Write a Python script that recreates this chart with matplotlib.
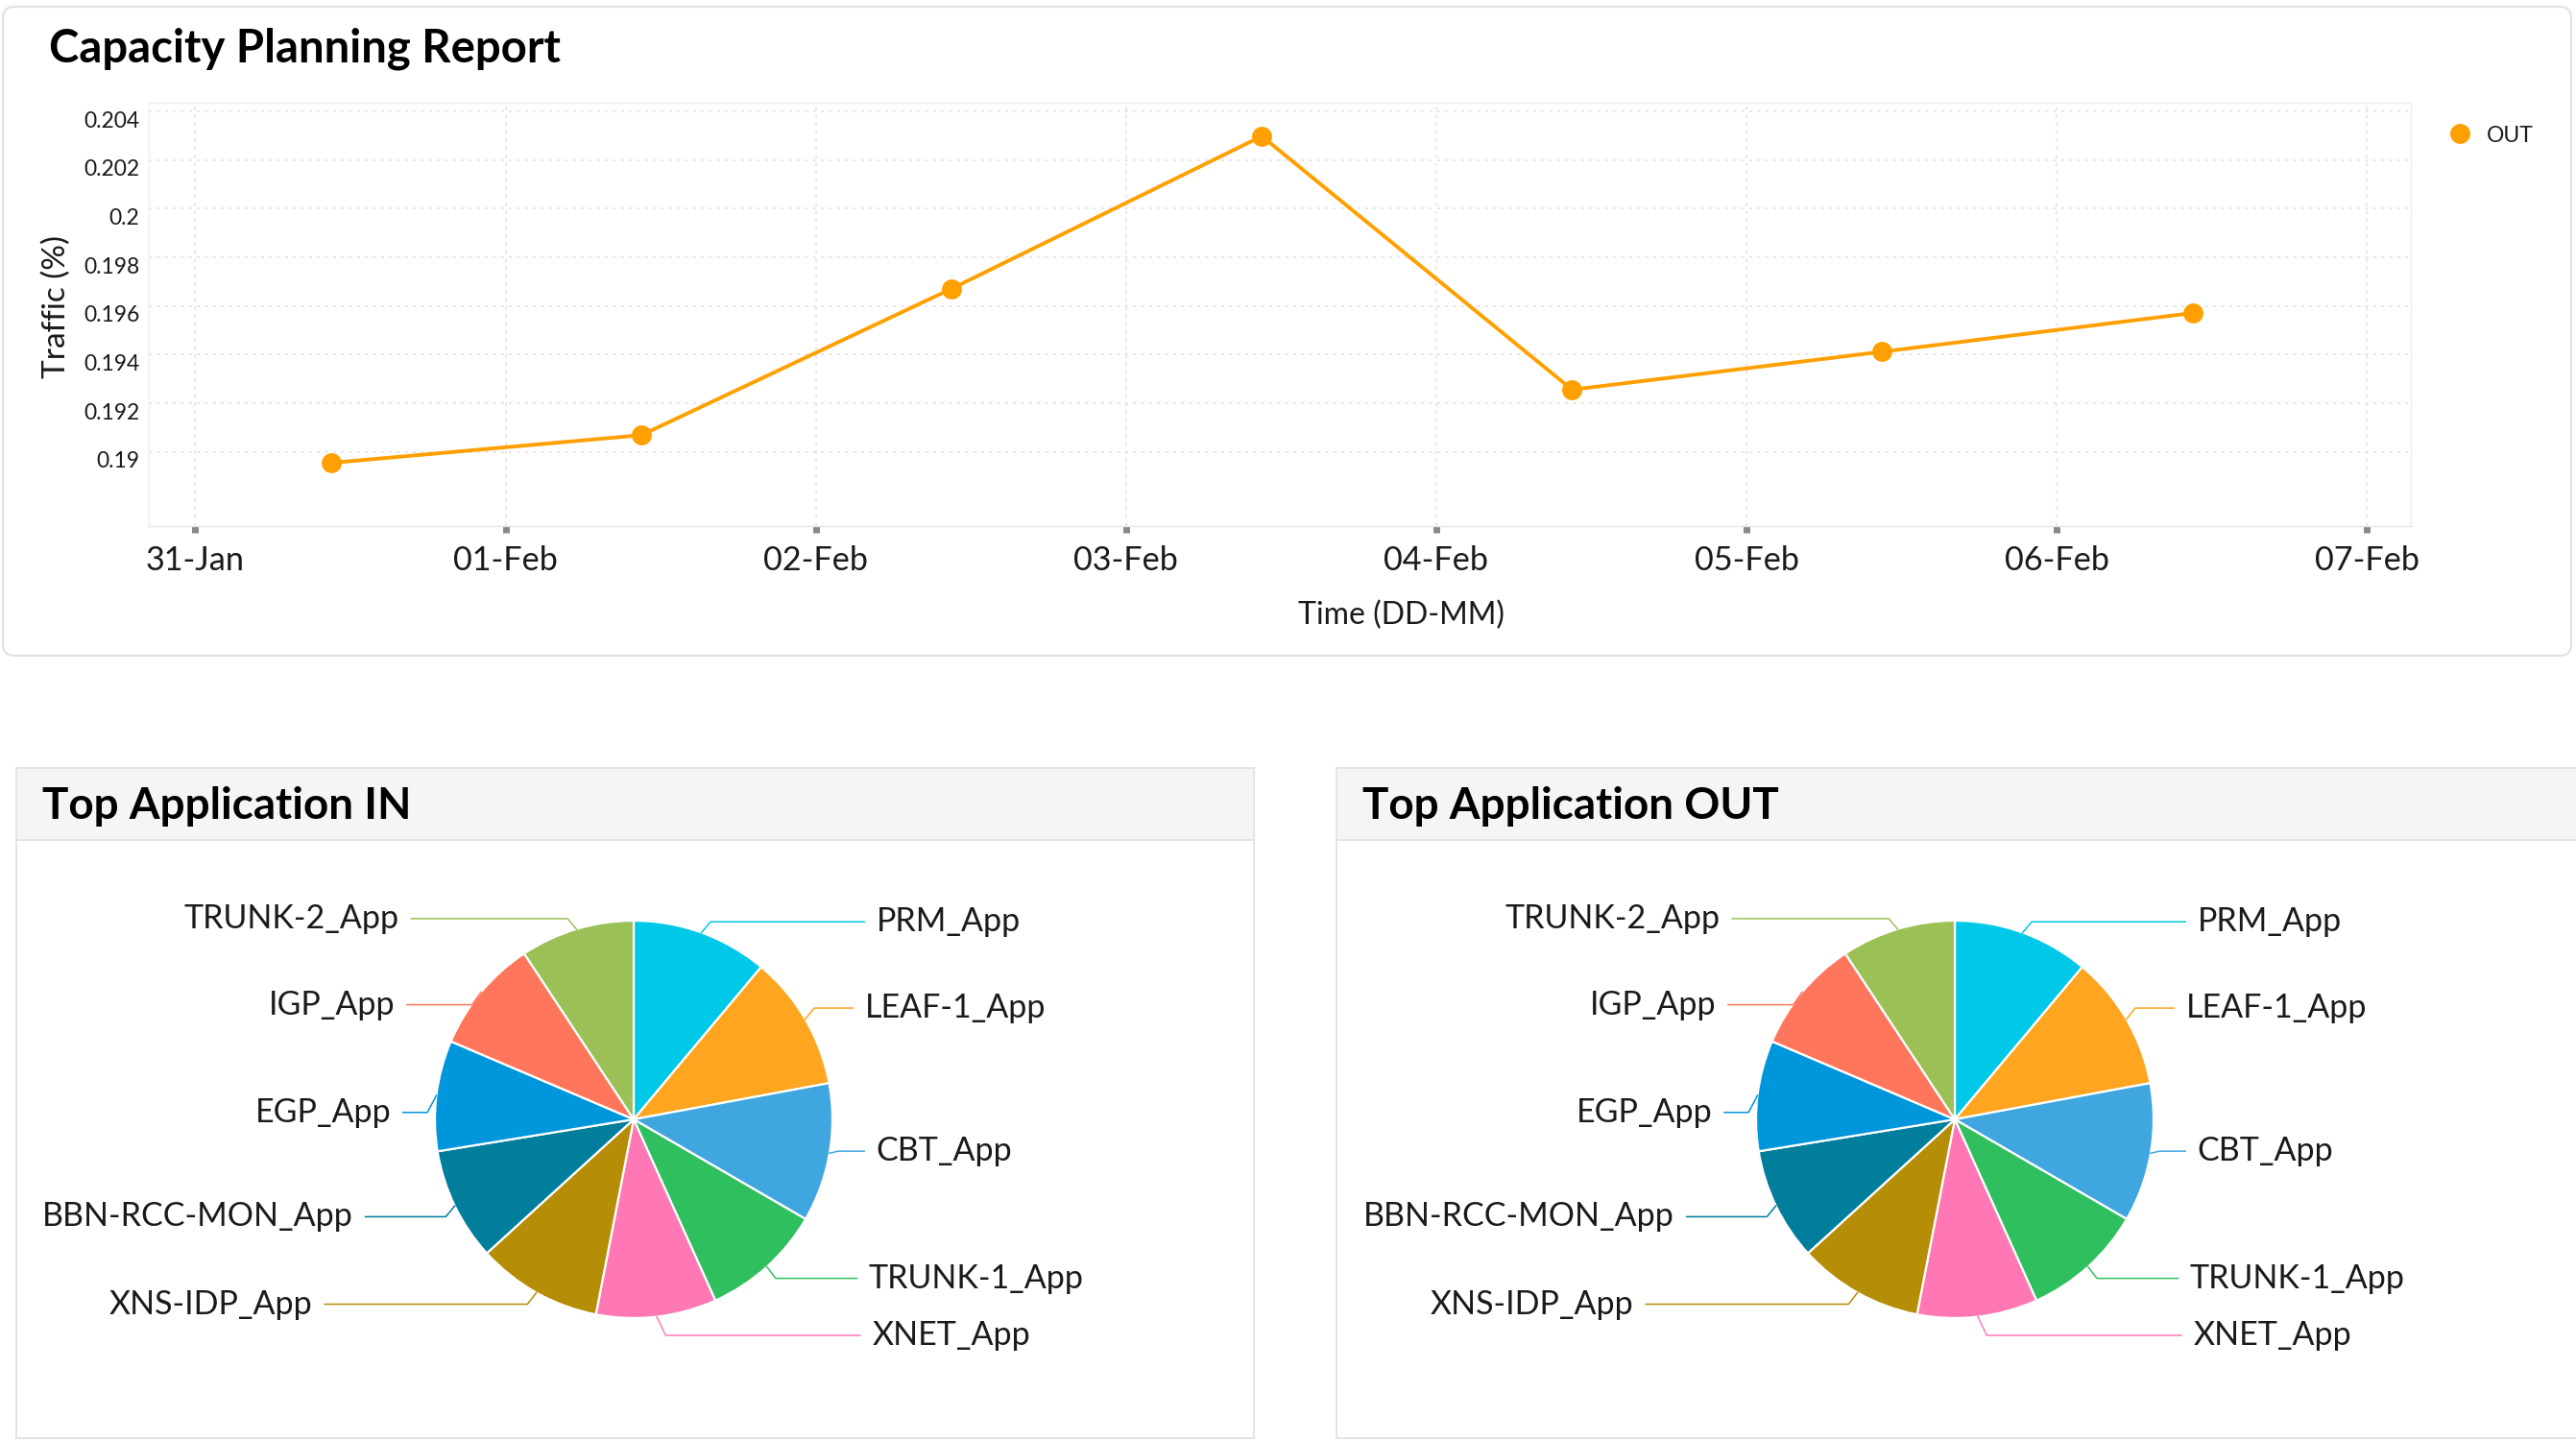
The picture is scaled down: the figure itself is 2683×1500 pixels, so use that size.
import matplotlib.pyplot as plt
import matplotlib.dates as mdates
from matplotlib.patches import FancyBboxPatch, Rectangle
from matplotlib.lines import Line2D
from matplotlib.ticker import FuncFormatter
from matplotlib.transforms import ScaledTranslation
import numpy as np
import pandas as pd

plt.rcParams['font.family'] = ['Lato', 'DejaVu Sans']

# ---- data -------------------------------------------------------------
sample_times = pd.to_datetime(['2024-01-31 10:30', '2024-02-01 10:30', '2024-02-02 10:30',
                               '2024-02-03 10:30', '2024-02-04 10:30', '2024-02-05 10:30',
                               '2024-02-06 10:30'])
traffic_out = [0.18955, 0.19069, 0.19671, 0.20298, 0.19256, 0.19412, 0.19571]
series_name = 'OUT'
date_ticks = pd.date_range('2024-01-31', '2024-02-07', freq='D')
traffic_ticks = [0.19, 0.192, 0.194, 0.196, 0.198, 0.2, 0.202, 0.204]

apps = ['PRM_App', 'LEAF-1_App', 'CBT_App', 'TRUNK-1_App', 'XNET_App',
        'XNS-IDP_App', 'BBN-RCC-MON_App', 'EGP_App', 'IGP_App', 'TRUNK-2_App']
share_in = [11.1, 11.0, 11.3, 9.9, 9.8, 10.2, 9.2, 9.0, 9.3, 9.3]
share_out = [11.1, 11.0, 11.3, 9.9, 9.8, 10.2, 9.2, 9.0, 9.3, 9.3]
app_colors = ['#00C8E8', '#FFA520', '#40A6DF', '#30BF5E', '#FF78B5',
              '#B58D07', '#007E9C', '#0096DC', '#FF765D', '#9BC055']

# label anchor for each slice, in units of the pie radius (layout only)
label_pos = [(1.22, 0.994), (1.163, 0.56), (1.22, -0.16), (1.183, -0.80), (1.20, -1.087),
             (-1.615, -0.93), (-1.41, -0.49), (-1.22, 0.035), (-1.20, 0.577), (-1.18, 1.01)]

W, H = 2683, 1500
ORANGE = '#FFA000'
TEXT = '#1A1A1A'

fig = plt.figure(figsize=(W / 100, H / 100), dpi=100)
fig.patch.set_facecolor('white')

# background layer in pixel units for the cards
bg = fig.add_axes([0, 0, 1, 1])
bg.set_xlim(0, W)
bg.set_ylim(H, 0)
bg.axis('off')

bg.add_patch(FancyBboxPatch((3, 7), 2675, 676, boxstyle='round,pad=0,rounding_size=12',
                            fc='white', ec='#E2E2E2', lw=1.6))
bg.text(51, 51, 'Capacity Planning Report', fontsize=34, fontweight='bold',
        color='black', va='center', ha='left')

for x0, x1, title in [(17, 1306, 'Top Application IN'), (1392, 2695, 'Top Application OUT')]:
    bg.add_patch(Rectangle((x0, 800), x1 - x0, 698, fc='white', ec='#E4E4E4', lw=1.4))
    bg.add_patch(Rectangle((x0, 800), x1 - x0, 75, fc='#F4F5F7', ec='#E4E4E4', lw=1.4))
    bg.text(x0 + 27, 840, title, fontsize=33, fontweight='bold', color='black',
            va='center', ha='left')

# ---- line chart -------------------------------------------------------
pl, pr, pt, pb = 155, 2510.6, 107.4, 548.3
ax = fig.add_axes([pl / W, 1 - pb / H, (pr - pl) / W, (pb - pt) / H])
ax.plot(sample_times, traffic_out, color=ORANGE, lw=2.8, marker='o', markersize=15,
        markeredgewidth=0, label=series_name, zorder=3)

t0 = date_ticks[0]
ax.set_xlim(t0 - pd.Timedelta(days=0.15), t0 + pd.Timedelta(days=7.14))
ax.set_ylim(0.18694, 0.20434)
ax.set_xticks(date_ticks)
ax.xaxis.set_major_formatter(mdates.DateFormatter('%d-%b'))
ax.set_yticks(traffic_ticks)
ax.yaxis.set_major_formatter(FuncFormatter(lambda v, p: f'{round(v, 4):g}'))
ax.tick_params(axis='x', direction='out', length=5, width=5, color='#888888',
               pad=9, labelsize=24.7, labelcolor=TEXT)
ax.tick_params(axis='y', length=0, pad=7, labelsize=16.5, labelcolor=TEXT)
# y labels sit a little under their grid lines in the original
shift = ScaledTranslation(0, -8 / 100, fig.dpi_scale_trans)
for lbl in ax.get_yticklabels():
    lbl.set_transform(lbl.get_transform() + shift)
ax.grid(True, ls=(0, (2, 3)), color='#E3E3E3', lw=1.2)
for s in ax.spines.values():
    s.set_color('#EEEEEE')
    s.set_linewidth(1)
ax.spines['bottom'].set_color('#E4E4E4')

bg.text(1460, 641, 'Time (DD-MM)', fontsize=23, color=TEXT, ha='center', va='center')
bg.text(59, 319, 'Traffic (%)', fontsize=24, color=TEXT, ha='center', va='center',
        rotation=90)

fig.legend(handles=[Line2D([], [], marker='o', ls='none', color=ORANGE, markersize=15,
                           markeredgewidth=0)],
           labels=[series_name], loc='center left', bbox_to_anchor=(2551 / W, 1 - 141 / H),
           frameon=False, fontsize=16.5, handlelength=1, handletextpad=0.7,
           borderpad=0, borderaxespad=0, labelcolor=TEXT)


# ---- pies -------------------------------------------------------------
def draw_pie(values, cx, cy, box, R=207):
    left, top, right, bottom = box
    pax = fig.add_axes([left / W, 1 - bottom / H, (right - left) / W, (bottom - top) / H])
    wedges, _ = pax.pie(values, colors=app_colors, startangle=90, counterclock=False,
                        radius=1, wedgeprops={'edgecolor': 'white', 'linewidth': 1.6})
    pax.set_aspect('auto')
    pax.set_xlim((left - cx) / R, (right - cx) / R)
    pax.set_ylim((cy - bottom) / R, (cy - top) / R)
    pax.axis('off')
    for w, name, (lx, ly) in zip(wedges, apps, label_pos):
        mid = np.deg2rad((w.theta1 + w.theta2) / 2)
        x0, y0 = np.cos(mid), np.sin(mid)
        side = 1 if lx > 0 else -1
        xs = [x0, x0 + side * 0.045, lx - side * 0.06]
        ys = [y0, ly, ly]
        pax.plot(xs, ys, color=w.get_facecolor(), lw=1.1, clip_on=False, zorder=1)
        pax.text(lx, ly, name, fontsize=24.5, color=TEXT, va='center',
                 ha='left' if side > 0 else 'right')


draw_pie(share_in, 660, 1166, (18, 876, 1305, 1497))
draw_pie(share_out, 2036, 1166, (1393, 876, 2683, 1497))

fig.savefig('out.png', dpi=100, facecolor='white')
